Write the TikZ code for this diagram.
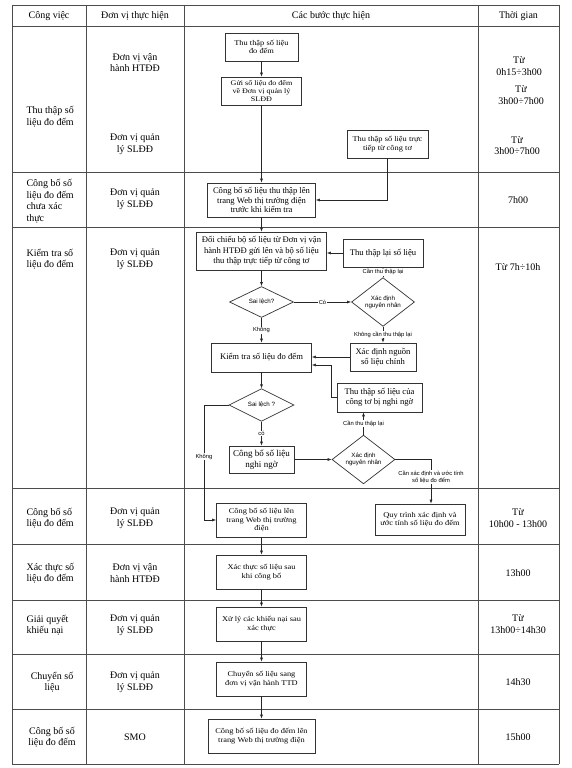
\documentclass[tikz,border=0pt]{standalone}
\usepackage{fontspec}
\setmainfont{Liberation Serif}
\newfontfamily\sansf{Liberation Sans}
\newfontfamily\wideserif[FakeStretch=1.15]{Liberation Serif}
\usetikzlibrary{shapes.geometric,arrows.meta,calc}
\begin{document}
\begin{tikzpicture}[x=1pt,y=-1pt,
  gridline/.style={draw=black!70,line width=0.8pt},
  sbox/.style={draw=black!80,line width=0.7pt,rectangle,align=center,inner sep=1pt,font=\wideserif\fontsize{7.3}{8.6}\selectfont},
  mbox/.style={sbox,font=\fontsize{8.6}{10.5}\selectfont},
  dia/.style={draw=black!80,line width=0.7pt,diamond,inner sep=0pt,align=center,font=\sansf\fontsize{6.2}{7}\selectfont},
  elab/.style={fill=white,inner sep=0.6pt,align=center,font=\sansf\fontsize{5.8}{6.8}\selectfont},
  cell/.style={align=center,font=\fontsize{10}{11.5}\selectfont},
  lcell/.style={align=left,anchor=west,font=\fontsize{10}{11.5}\selectfont},
  arr/.style={-{Latex[length=4pt,width=3pt]},line width=0.6pt,draw=black!85}
]
\useasboundingbox (0,0) rectangle (571,768);
\fill[white] (0,0) rectangle (571,768);

% table grid
\foreach \yy in {5,26,172,227,488,544,600,654,709,764}
  \draw[gridline] (12,\yy) -- (559,\yy);
\foreach \xx in {12,86,184,478,559}
  \draw[gridline] (\xx,5) -- (\xx,764);

% header
\node[cell] (h1) at (49,16) {Công việc};
\node[cell] (h2) at (135,16) {Đơn vị thực hiện};
\node[cell] (h3) at (331,16) {Các bước thực hiện};
\node[cell] (h4) at (518.5,16) {Thời gian};

% column 1
\node[lcell] (c1a) at (23,116.5) {Thu thập số\\liệu đo đếm};
\node[lcell] (c1b) at (23,201) {Công bố số\\liệu đo đếm\\chưa xác\\thực};
\node[lcell] (c1c) at (23,259) {Kiểm tra số\\liệu đo đếm};
\node[lcell] (c1d) at (23,518) {Công bố số\\liệu đo đếm};
\node[lcell] (c1e) at (23,573) {Xác thực số\\liệu đo đếm};
\node[lcell] (c1f) at (23,625) {Giải quyết\\khiếu nại};
\node[cell] (c1g) at (52,682) {Chuyển số\\liệu};
\node[cell] (c1h) at (52,737) {Công bố số\\liệu đo đếm};

% column 2
\node[cell] (c2a) at (135,62.5) {Đơn vị vận\\hành HTĐĐ};
\node[cell] (c2b) at (135,144) {Đơn vị quản\\lý SLĐĐ};
\node[cell] (c2c) at (135,199) {Đơn vị quản\\lý SLĐĐ};
\node[cell] (c2d) at (135,259) {Đơn vị quản\\lý SLĐĐ};
\node[cell] (c2e) at (135,518) {Đơn vị quản\\lý SLĐĐ};
\node[cell] (c2f) at (135,573) {Đơn vị vận\\hành HTĐĐ};
\node[cell] (c2g) at (135,625) {Đơn vị quản\\lý SLĐĐ};
\node[cell] (c2h) at (135,682) {Đơn vị quản\\lý SLĐĐ};
\node[cell] (c2i) at (135,737) {SMO};

% column 4
\node[cell] (t1) at (519,66) {Từ\\0h15÷3h00};
\node[cell] (t2) at (521,95) {Từ\\3h00÷7h00};
\node[cell] (t3) at (517,145.5) {Từ\\3h00÷7h00};
\node[cell] (t4) at (518,200) {7h00};
\node[cell] (t5) at (518,267) {Từ 7h÷10h};
\node[cell] (t6) at (518,518) {Từ\\10h00 - 13h00};
\node[cell] (t7) at (518,573) {13h00};
\node[cell] (t8) at (518,624) {Từ\\13h00÷14h30};
\node[cell] (t9) at (518,682) {14h30};
\node[cell] (t10) at (518,737) {15h00};

% flow boxes
\node[sbox,minimum width=73,minimum height=28] (b1) at (261.5,47) {Thu thập số liệu\\đo đếm};
\node[sbox,minimum width=80,minimum height=28,font=\wideserif\fontsize{7}{8.3}\selectfont] (b2) at (261.5,91) {Gửi số liệu đo đếm\\về Đơn vị quản lý\\SLĐĐ};
\node[sbox,minimum width=81,minimum height=28] (btt) at (387.5,144) {Thu thập số liệu trực\\tiếp từ công tơ};
\node[mbox,minimum width=108,minimum height=34,font=\fontsize{8.6}{9.7}\selectfont] (b3) at (261.5,200) {Công bố số liệu thu thập lên\\trang Web thị trường điện\\trước khi kiểm tra};
\node[mbox,minimum width=130,minimum height=38] (bdc) at (261.5,251) {Đối chiếu bộ số liệu từ Đơn vị vận\\hành HTĐĐ gửi lên và bộ số liệu\\thu thập trực tiếp từ công tơ};
\node[mbox,minimum width=80,minimum height=28] (btl) at (383,253) {Thu thập lại số liệu};
\node[dia,minimum width=64,minimum height=30] (d1) at (261.5,302) {Sai lệch?};
\node[dia,minimum width=63,minimum height=30] (d2) at (383,302) {Xác định\\nguyên nhân};
\node[mbox,minimum width=100,minimum height=29] (bkt) at (261.5,357.5) {Kiểm tra số liệu đo đếm};
\node[mbox,minimum width=66,minimum height=28] (bxn) at (383,357) {Xác định nguồn\\số liệu chính};
\node[mbox,minimum width=85,minimum height=29] (bcn) at (379.5,397.5) {Thu thập số liệu của\\công tơ bị nghi ngờ};
\node[dia,minimum width=65,minimum height=31] (d3) at (261.5,405) {Sai lệch ?};
\node[mbox,minimum width=65,minimum height=27,font=\fontsize{9}{10.5}\selectfont] (bng) at (261.5,459.5) {Công bố số liệu\\nghi ngờ};
\node[dia,minimum width=63,minimum height=31] (d4) at (363.5,459.5) {Xác định\\nguyên nhân};
\node[sbox,minimum width=90,minimum height=31] (bqt) at (420,519.5) {Quy trình xác định và\\ước tính số liệu đo đếm};
\node[sbox,minimum width=90,minimum height=34] (bcl) at (261.5,520) {Công bố số liệu lên\\trang Web thị trường\\điện};
\node[sbox,minimum width=90,minimum height=34] (bxt) at (261.5,572) {Xác thực số liệu sau\\khi công bố};
\node[sbox,minimum width=90,minimum height=34] (bxl) at (261.5,624) {Xử lý các khiếu nại sau\\xác thực};
\node[sbox,minimum width=90,minimum height=34] (bch) at (261.5,679) {Chuyển số liệu sang\\đơn vị vận hành TTD};
\node[sbox,minimum width=107,minimum height=34] (bsmo) at (261.5,736) {Công bố số liệu đo đếm lên\\trang Web thị trường điện};

\coordinate (kA) at (204,0);
\coordinate (kB) at (431,0);

% connectors
\draw[arr] (b1.south) -- (b2.north);
\draw[arr] (b2.south) -- (b3.north);
\draw[arr] (btt.south) |- (b3.east);
\draw[arr] (b3.south) -- (bdc.north);
\draw[arr] (btl.west) -- (btl.west -| bdc.east);
\draw[arr] (bdc.south) -- (d1.north);
\draw[arr] (d1.east) -- node[elab]{Có} (d2.west);
\draw[arr] (d2.north) -- node[elab]{Cần thu thập lại} (btl.south);
\draw[arr] (d1.south) -- node[elab]{Không} (bkt.north);
\draw[arr] (d2.south) -- node[elab]{Không cần thu thập lại} (bxn.north);
\draw[arr] (bxn.west) -- (bxn.west -| bkt.east);
\draw[arr] (bcn.west) -- ++(-5,0) |- ($(bkt.east)+(0,7.5)$);
\draw[arr] (bkt.south) -- (d3.north);
\draw[arr] (d3.west) -- (d3.west -| kA) -- node[elab,pos=0.45]{Không} (kA |- bcl.west) -- (bcl.west);
\draw[arr] (d3.south) -- node[elab]{có} (bng.north);
\draw[arr] (bng.east) -- (d4.west);
\draw[arr] (d4.north) -- node[elab]{Cần thu thập lại} (d4.north |- bcn.south);
\draw[arr] (d4.east) -- (d4.east -| kB) -- node[elab,pos=0.4]{Cần xác định và ước tính\\số liệu đo đếm} (kB |- bqt.north);
\draw[arr] (bcl.south) -- (bxt.north);
\draw[arr] (bxt.south) -- (bxl.north);
\draw[arr] (bxl.south) -- (bch.north);
\draw[arr] (bch.south) -- (bsmo.north);
\end{tikzpicture}
\end{document}
